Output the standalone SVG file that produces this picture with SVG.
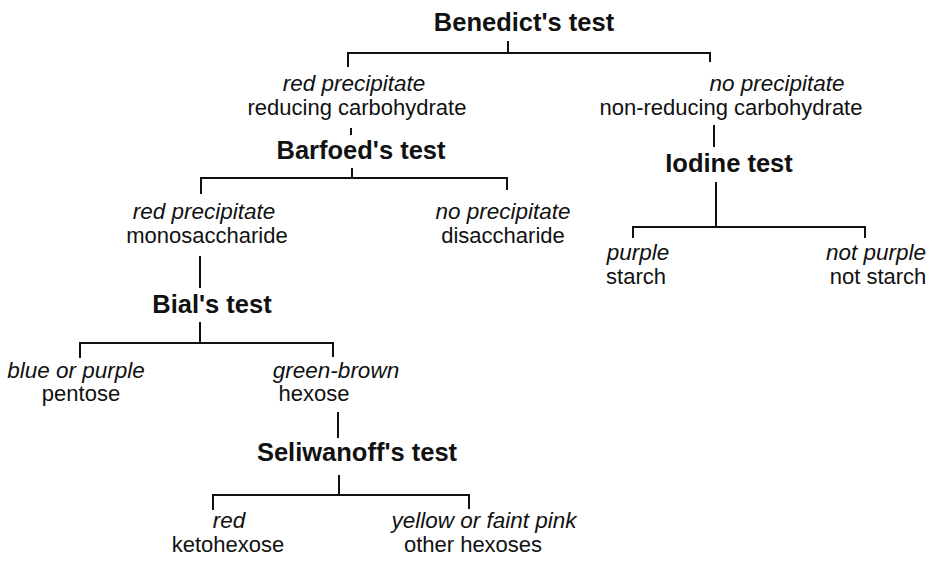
<svg xmlns="http://www.w3.org/2000/svg" width="934" height="563" viewBox="0 0 934 563">
<style>
text{font-family:"Liberation Sans",Arial,sans-serif;fill:#111;text-anchor:middle}
.t{font-size:25.5px;font-weight:bold}
.r{font-size:22.5px;font-style:italic}
.n{font-size:22px}
#connectors path{fill:none;stroke:#111;stroke-width:2}
</style>
<rect width="934" height="563" fill="#fff"/>
<g id="connectors">
<path d="M508 41V53M348 67V53H710V62"/>
<path d="M351 128V135"/>
<path d="M352 168V178M201 194V178H507V190"/>
<path d="M714 125V147"/>
<path d="M716 182V227M633 238V227H865V238"/>
<path d="M200 256V288"/>
<path d="M200 322V343M80 358V343H333V357"/>
<path d="M338 412V438"/>
<path d="M339 475V495M213 510V495H469V509"/>
</g>
<g id="benedict"><text class="t" x="524" y="31">Benedict's test</text></g>
<g id="reducing"><text class="r" x="354" y="91">red precipitate</text><text class="n" x="357" y="115">reducing carbohydrate</text></g>
<g id="nonreducing"><text class="r" x="777" y="91">no precipitate</text><text class="n" x="731" y="115">non-reducing carbohydrate</text></g>
<g id="barfoed"><text class="t" x="361" y="159">Barfoed's test</text></g>
<g id="iodine"><text class="t" x="729" y="172">Iodine test</text></g>
<g id="starch"><text class="r" x="638" y="260">purple</text><text class="n" x="636" y="284">starch</text></g>
<g id="notstarch"><text class="r" x="876" y="260">not purple</text><text class="n" x="878" y="284">not starch</text></g>
<g id="mono"><text class="r" x="204" y="219">red precipitate</text><text class="n" x="207" y="243">monosaccharide</text></g>
<g id="di"><text class="r" x="503" y="219">no precipitate</text><text class="n" x="503" y="243">disaccharide</text></g>
<g id="bial"><text class="t" x="212" y="313">Bial's test</text></g>
<g id="pentose"><text class="r" x="76" y="378">blue or purple</text><text class="n" x="81" y="401">pentose</text></g>
<g id="hexose"><text class="r" x="336" y="378">green-brown</text><text class="n" x="314" y="401">hexose</text></g>
<g id="seliwanoff"><text class="t" x="357" y="461">Seliwanoff's test</text></g>
<g id="ketohexose"><text class="r" x="229" y="528">red</text><text class="n" x="228" y="552">ketohexose</text></g>
<g id="otherhexoses"><text class="r" x="484" y="528">yellow or faint pink</text><text class="n" x="473" y="552">other hexoses</text></g>
</svg>
